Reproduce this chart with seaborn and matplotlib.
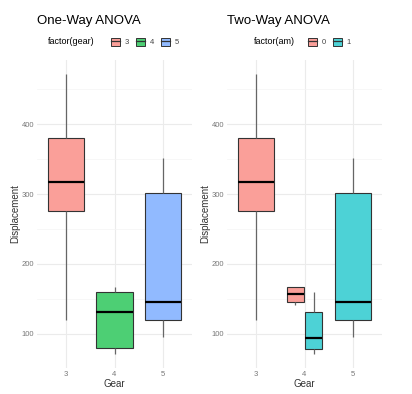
import numpy as np
import pandas as pd
import matplotlib.pyplot as plt
import seaborn as sns
from matplotlib.patches import Patch
from matplotlib.lines import Line2D

# mtcars displacement, split by gear, with the transmission flag (am)
disp_gear3 = [258, 360, 225, 360, 275.8, 275.8, 275.8, 472, 460, 440, 120.1, 318, 304, 350, 400]
am_gear3 = [0] * 15
disp_gear4 = [160, 160, 108, 146.7, 140.8, 167.6, 167.6, 78.7, 75.7, 71.1, 79, 121]
am_gear4 = [1, 1, 1, 0, 0, 0, 0, 1, 1, 1, 1, 1]
disp_gear5 = [120.3, 95.1, 351, 145, 301]
am_gear5 = [1] * 5

gear_levels = ['3', '4', '5']
am_levels = ['0', '1']
y_ticks = [100, 200, 300, 400]

gear_colors = {'3': '#FA9F99', '4': '#4DCF74', '5': '#91BAFF'}
am_colors = {'0': '#FA9F99', '1': '#4DD2D6'}

df = pd.DataFrame({
    'gear': ['3'] * len(disp_gear3) + ['4'] * len(disp_gear4) + ['5'] * len(disp_gear5),
    'disp': disp_gear3 + disp_gear4 + disp_gear5,
    'am': [str(a) for a in am_gear3 + am_gear4 + am_gear5],
})

plt.rcParams['font.family'] = ['Liberation Sans', 'DejaVu Sans']

fig = plt.figure(figsize=(4.12, 3.94), dpi=100)
W, H = 412, 394
ax1 = fig.add_axes([37 / W, 1 - 368 / H, 155 / W, 308 / H])
ax2 = fig.add_axes([227 / W, 1 - 368 / H, 155 / W, 308 / H])

box_kw = dict(linewidth=0.8, linecolor='#333333', saturation=1,
              whiskerprops=dict(color='#666666', linewidth=0.9),
              capprops=dict(linewidth=0),
              medianprops=dict(color='black', linewidth=1.6),
              showfliers=False, legend=False)

# one-way: fill by gear
sns.boxplot(data=df, x='gear', y='disp', hue='gear', order=gear_levels,
            palette=gear_colors, width=0.75, dodge=False, ax=ax1, **box_kw)

# two-way: gears with a single am level keep full width, gear 4 is dodged
single = df[df['gear'] != '4']
sns.boxplot(data=single, x='gear', y='disp', hue='am', order=gear_levels,
            hue_order=am_levels, palette=am_colors, width=0.75, dodge=False,
            ax=ax2, **box_kw)
sns.boxplot(data=df[df['gear'] == '4'], x='gear', y='disp', hue='am', order=gear_levels,
            hue_order=am_levels, palette=am_colors, width=0.75, dodge=True, gap=0.08,
            ax=ax2, **box_kw)

for ax, title in [(ax1, 'One-Way ANOVA'), (ax2, 'Two-Way ANOVA')]:
    ax.set_xlim(-0.6, 2.6)
    ax.set_ylim(51, 492)
    ax.set_yticks(y_ticks)
    ax.set_yticks([150, 250, 350, 450], minor=True)
    ax.set_xticks(range(3))
    ax.set_xticklabels(gear_levels)
    ax.grid(True, which='major', color='#EBEBEB', linewidth=0.8)
    ax.grid(True, which='minor', axis='y', color='#F4F4F4', linewidth=0.5)
    ax.set_axisbelow(True)
    for s in ax.spines.values():
        s.set_visible(False)
    ax.tick_params(which='both', length=0, labelsize=5.5, labelcolor='#777777', pad=2)
    ax.set_xlabel('Gear', fontsize=7, color='#333333', labelpad=1)
    ax.set_ylabel('Displacement', fontsize=7, color='#333333', labelpad=1)
    ax.text(0, 1 + 39 / 308, title, transform=ax.transAxes, fontsize=9.5,
            ha='left', va='center')

# legends on top, title on the left of the keys
def top_legend(title, tx, kx, labels, colors):
    fig.text(tx / W, 1 - 42 / H, title, fontsize=6.5, ha='left', va='center')
    handles = [(Patch(facecolor=colors[l], edgecolor='#333333', linewidth=0.7),
                Line2D([], [], color='#333333', linewidth=0.9)) for l in labels]
    fig.legend(handles, labels, loc='center left', bbox_to_anchor=(kx / W, 1 - 42 / H),
               ncol=len(labels), frameon=False, fontsize=5.5, handlelength=1.2,
               handleheight=1.2, handletextpad=0.6, columnspacing=0.9,
               borderpad=0, borderaxespad=0, labelcolor='#444444')

top_legend('factor(gear)', 48, 111, gear_levels, gear_colors)
top_legend('factor(am)', 254, 308, am_levels, am_colors)

fig.savefig('out.png', dpi=100, facecolor='white')
